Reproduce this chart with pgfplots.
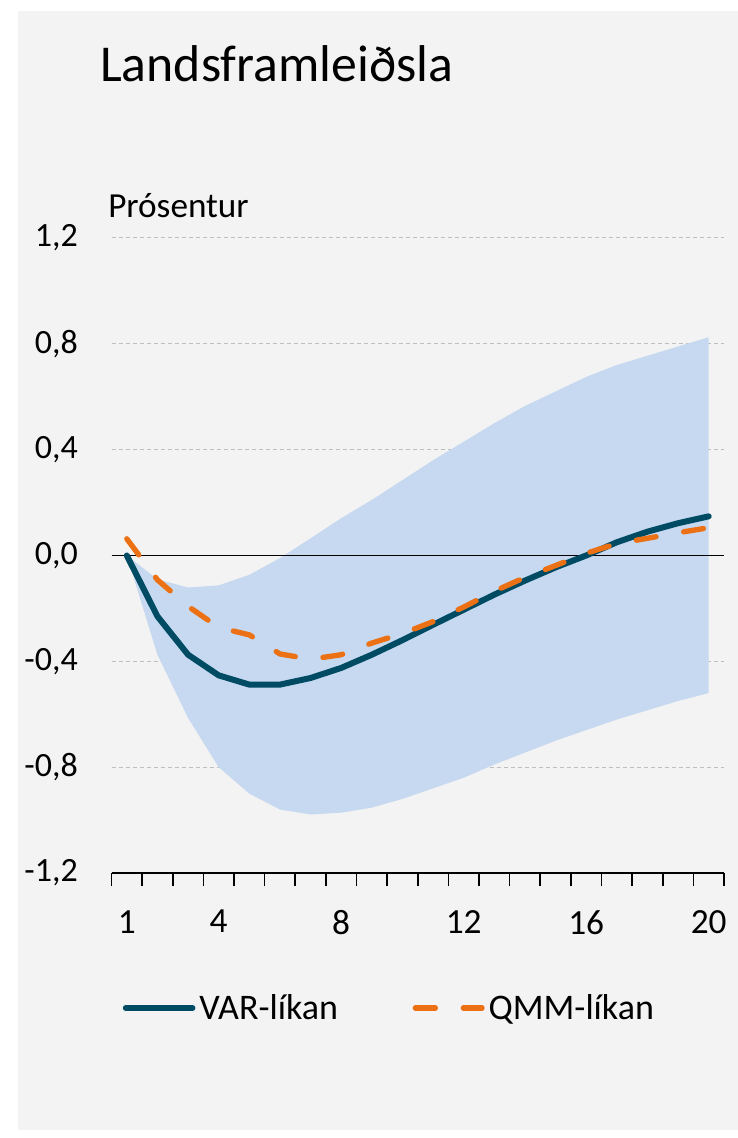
\documentclass[border=0pt]{standalone}
\usepackage{pgfplots}
\pgfplotsset{compat=1.18}
\usepackage{fontspec}
\setmainfont{Carlito}
\definecolor{bg}{RGB}{243,243,243}
\definecolor{bandc}{RGB}{198,217,240}
\definecolor{varc}{RGB}{0,75,100}
\definecolor{qmmc}{RGB}{236,112,20}
\definecolor{gridc}{RGB}{190,190,190}
\begin{document}
\begin{tikzpicture}
\fill[white] (0pt,0pt) rectangle (553.5pt,853.5pt);
\fill[bg] (13.5pt,6pt) rectangle (553.5pt,845.25pt);
\node[anchor=base west, inner sep=0pt, font=\fontsize{38.8}{44}\selectfont] at (75pt,792pt) {Landsframleiðsla};
\node[anchor=base west, inner sep=0pt, font=\fontsize{26.4}{30}\selectfont] at (81pt,690pt) {Prósentur};
\begin{axis}[
  at={(83.625pt,198.75pt)}, anchor=south west,
  scale only axis, width=459.375pt, height=476.25pt,
  xmin=0.5, xmax=20.5, ymin=-1.2, ymax=1.2,
  separate axis lines,
  axis x line*=bottom, axis y line*=left,
  y axis line style={draw=none},
  x axis line style={line width=1.3pt, black, -},
  xtick={1,4,8,12,16,20},
  minor xtick={0.5,1.5,...,20.5},
  xtick align=outside,
  major tick length=0pt,
  minor tick length=9.75pt,
  minor tick style={line width=1.3pt, black},
  ytick={-1.2,-0.8,-0.4,0,0.4,0.8,1.2},
  yticklabels={{-1,2},{-0,8},{-0,4},{0,0},{0,4},{0,8},{1,2}},
  ytick style={draw=none},
  ymajorgrids,
  y grid style={gridc, dash pattern=on 3pt off 2.25pt, line width=0.75pt},
  /pgf/number format/assume math mode=true,
  yticklabel style={font=\fontsize{25.5}{30}\selectfont, anchor=east, inner sep=0pt, xshift=-25.1pt},
  xticklabel style={font=\fontsize{26.5}{30}\selectfont, anchor=north, inner sep=0pt, yshift=-27.75pt},
  legend columns=2,
  legend style={at={(0.018,-0.2126)}, anchor=west, draw=none, fill=none, inner sep=0pt,
    font=\fontsize{27}{30}\selectfont, nodes={inner sep=0pt},
    /tikz/every odd column/.append style={column sep=3pt},
    /tikz/every even column/.append style={column sep=56pt}},
  legend image code/.code={\draw[#1] (0pt,0pt) -- (50pt,0pt);},
  clip=false,
]
\addplot[fill=bandc, draw=none, forget plot] coordinates {
 (1,0) (2,-0.09) (3,-0.121) (4,-0.113) (5,-0.073) (6,-0.01) (7,0.065) (8,0.141) (9,0.21) (10,0.285)
 (11,0.36) (12,0.43) (13,0.50) (14,0.565) (15,0.62) (16,0.675) (17,0.72) (18,0.755) (19,0.79) (20,0.825)
 (20,-0.52) (19,-0.55) (18,-0.585) (17,-0.62) (16,-0.66) (15,-0.70) (14,-0.745) (13,-0.79) (12,-0.84) (11,-0.88)
 (10,-0.92) (9,-0.953) (8,-0.972) (7,-0.979) (6,-0.96) (5,-0.90) (4,-0.80) (3,-0.614) (2,-0.375) (1,0)
} -- cycle;
\addplot[black, line width=1.3pt, forget plot] coordinates {(0.5,0) (20.5,0)};
\addplot[varc, line width=4.5pt, line cap=round, line join=round] coordinates {
 (1,0) (2,-0.23) (3,-0.375) (4,-0.453) (5,-0.488) (6,-0.488) (7,-0.463) (8,-0.425) (9,-0.375) (10,-0.32)
 (11,-0.262) (12,-0.205) (13,-0.148) (14,-0.095) (15,-0.045) (16,0.0) (17,0.05) (18,0.09) (19,0.122) (20,0.148)
};
\addlegendentry{VAR-líkan}
\addplot[qmmc, line width=4pt, line cap=round, line join=round, dash pattern=on 15pt off 21pt] coordinates {
 (1,0.063) (2,-0.092) (3,-0.192) (4,-0.272) (5,-0.30) (6,-0.372) (7,-0.392) (8,-0.375) (9,-0.331) (10,-0.295)
 (11,-0.25) (12,-0.195) (13,-0.135) (14,-0.083) (15,-0.038) (16,0.008) (17,0.045) (18,0.065) (19,0.086) (20,0.105)
};
\addlegendentry{QMM-líkan}
\end{axis}
\end{tikzpicture}
\end{document}
